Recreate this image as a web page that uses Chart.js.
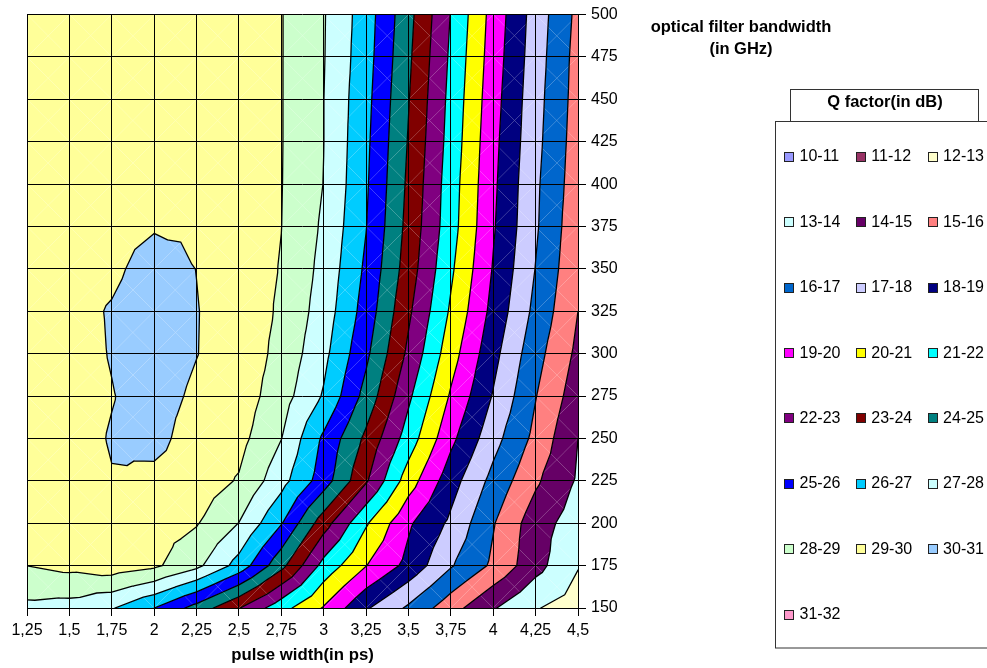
<!DOCTYPE html>
<html>
<head>
<meta charset="utf-8">
<script src="https://cdn.jsdelivr.net/npm/chart.js@4.4.1/dist/chart.umd.min.js"></script>
<style>
  html, body { margin: 0; padding: 0; background: #fff; }
  canvas { display: block; }
</style>
</head>
<body>
<canvas id="chart" width="987" height="668"></canvas>
<script>
// Pulse width (ps) along x, optical filter bandwidth (GHz) along y
const pulseWidths = [1.25, 1.5, 1.75, 2, 2.25, 2.5, 2.75, 3, 3.25, 3.5, 3.75, 4, 4.25, 4.5];
const bandwidths = [500, 475, 450, 425, 400, 375, 350, 325, 300, 275, 250, 225, 200, 175, 150];

// Q factor (dB) at each pulse width, one row per bandwidth
const q500 = [29.45, 29.5, 29.55, 29.6, 29.55, 29.45, 29.04, 28.07, 26.49, 24.31, 21.96, 19.62, 17.56, 15.74];
const q475 = [29.5, 29.55, 29.6, 29.65, 29.6, 29.45, 29.04, 28.05, 26.41, 24.18, 21.83, 19.51, 17.47, 15.63];
const q450 = [29.55, 29.6, 29.65, 29.7, 29.65, 29.5, 29.04, 28.01, 26.3, 24.05, 21.71, 19.39, 17.37, 15.58];
const q425 = [29.6, 29.65, 29.7, 29.75, 29.7, 29.5, 29.04, 28.01, 26.21, 23.93, 21.61, 19.28, 17.29, 15.51];
const q400 = [29.6, 29.7, 29.75, 29.8, 29.75, 29.5, 29.03, 27.98, 26.13, 23.81, 21.48, 19.19, 17.18, 15.43];
const q375 = [29.6, 29.7, 29.78, 29.94, 29.9, 29.55, 29.01, 27.85, 26.03, 23.69, 21.41, 19.1, 17.13, 15.3];
const q350 = [29.6, 29.7, 29.85, 30.31, 29.99, 29.55, 28.95, 27.71, 25.82, 23.51, 21.17, 18.93, 16.97, 15.18];
const q325 = [29.65, 29.75, 30.06, 30.42, 30.03, 29.6, 28.86, 27.54, 25.58, 23.18, 20.86, 18.69, 16.73, 15.0];
const q300 = [29.65, 29.7, 30.04, 30.4, 30.02, 29.6, 28.72, 27.27, 25.21, 22.79, 20.43, 18.31, 16.36, 14.77];
const q275 = [29.6, 29.7, 29.97, 30.3, 29.87, 29.55, 28.45, 26.9, 24.65, 22.19, 19.88, 17.93, 16.04, 14.45];
const q250 = [29.6, 29.7, 30.05, 30.27, 29.6, 29.32, 28.02, 25.82, 23.78, 21.54, 19.25, 17.36, 15.73, 14.0];
const q225 = [29.55, 29.65, 29.965, 29.77, 29.55, 28.92, 27.36, 25.48, 23.12, 20.49, 18.42, 16.69, 15.16, 13.88];
const q200 = [29.4, 29.45, 29.45, 29.4, 29.07, 27.98, 26.06, 23.44, 21.11, 19.15, 17.8, 16.07, 14.45, 13.5];
const q175 = [29.01, 29.27, 29.55, 29.18, 28.25, 26.62, 24.3, 21.66, 20.03, 18.7, 17.09, 15.81, 14.35, 13.05];
const q150 = [27.76, 27.62, 27.08, 26.0, 24.62, 23.05, 21.37, 19.92, 18.12, 16.84, 15.4, 14.09, 13.06, 12.57];
const qRows = [q500, q475, q450, q425, q400, q375, q350, q325, q300, q275, q250, q225, q200, q175, q150];

// Contour bands (1 dB each) and their fills
const bandLabels = ['10-11', '11-12', '12-13', '13-14', '14-15', '15-16', '16-17', '17-18',
  '18-19', '19-20', '20-21', '21-22', '22-23', '23-24', '24-25', '25-26', '26-27', '27-28',
  '28-29', '29-30', '30-31', '31-32'];
const bandColors = ['#9999FF', '#993366', '#FFFFCC', '#CCFFFF', '#660066', '#FF8080', '#0066CC', '#CCCCFF',
  '#000080', '#FF00FF', '#FFFF00', '#00FFFF', '#800080', '#800000', '#008080', '#0000FF', '#00CCFF', '#CCFFFF',
  '#CCFFCC', '#FFFF99', '#99CCFF', '#FF99CC'];

const FONT = '"Liberation Sans", Arial, Helvetica, sans-serif';

// grid points handed to Chart.js as one scatter dataset
const gridPoints = [];
bandwidths.forEach((bw, j) => {
  pulseWidths.forEach((pw, i) => gridPoints.push({ x: pw, y: bw, q: qRows[j][i] }));
});

function clipPolygon(poly, level, keepAbove) {
  const out = [];
  for (let k = 0; k < poly.length; k++) {
    const a = poly[k], b = poly[(k + 1) % poly.length];
    const ina = keepAbove ? a.v >= level : a.v <= level;
    const inb = keepAbove ? b.v >= level : b.v <= level;
    if (ina) out.push(a);
    if (ina !== inb) {
      const t = (level - a.v) / (b.v - a.v);
      out.push({ x: a.x + t * (b.x - a.x), y: a.y + t * (b.y - a.y), v: level });
    }
  }
  return out;
}

// Filled contour: every grid cell is split into four triangles around its centre
const contourBands = {
  id: 'contourBands',
  beforeDraw(chart) {
    const { ctx, chartArea: ca } = chart;
    const xs = chart.scales.x, ys = chart.scales.y;
    const pts = chart.data.datasets[0].data;
    const nx = pulseWidths.length, ny = bandwidths.length;
    const node = (i, j) => {
      const p = pts[j * nx + i];
      return { x: xs.getPixelForValue(p.x), y: ys.getPixelForValue(p.y), v: p.q };
    };
    const tris = [];
    for (let j = 0; j < ny - 1; j++) {
      for (let i = 0; i < nx - 1; i++) {
        const a = node(i, j), b = node(i + 1, j), c = node(i + 1, j + 1), d = node(i, j + 1);
        const m = { x: (a.x + b.x + c.x + d.x) / 4, y: (a.y + b.y + c.y + d.y) / 4, v: (a.v + b.v + c.v + d.v) / 4 };
        tris.push([a, b, m], [b, c, m], [c, d, m], [d, a, m]);
      }
    }
    ctx.save();
    ctx.fillStyle = '#fff';
    ctx.fillRect(0, 0, chart.width, chart.height);
    ctx.beginPath();
    ctx.rect(ca.left, ca.top, ca.right - ca.left, ca.bottom - ca.top);
    ctx.clip();

    const bandLow = bandLabels.map(l => parseFloat(l));
    for (const t of tris) {
      const vmin = Math.min(t[0].v, t[1].v, t[2].v);
      const vmax = Math.max(t[0].v, t[1].v, t[2].v);
      for (let k = 0; k < bandLow.length; k++) {
        const lo = bandLow[k], hi = lo + 1;
        if (vmax < lo || vmin >= hi) continue;
        const poly = clipPolygon(clipPolygon(t, lo, true), hi, false);
        if (poly.length < 3) continue;
        ctx.beginPath();
        poly.forEach((p, n) => n ? ctx.lineTo(p.x, p.y) : ctx.moveTo(p.x, p.y));
        ctx.closePath();
        ctx.fillStyle = bandColors[k];
        ctx.fill();
      }
    }

    // contour lines between the bands
    ctx.beginPath();
    for (const t of tris) {
      const vmin = Math.min(t[0].v, t[1].v, t[2].v);
      const vmax = Math.max(t[0].v, t[1].v, t[2].v);
      for (let L = Math.ceil(vmin); L <= Math.floor(vmax); L++) {
        const cut = [];
        for (let k = 0; k < 3; k++) {
          const a = t[k], b = t[(k + 1) % 3];
          if ((a.v > L) !== (b.v > L)) {
            const s = (L - a.v) / (b.v - a.v);
            cut.push([a.x + s * (b.x - a.x), a.y + s * (b.y - a.y)]);
          }
        }
        if (cut.length === 2) {
          ctx.moveTo(cut[0][0], cut[0][1]);
          ctx.lineTo(cut[1][0], cut[1][1]);
        }
      }
    }
    ctx.strokeStyle = '#000';
    ctx.lineWidth = 1.3;
    ctx.lineCap = 'round';
    ctx.stroke();
    ctx.restore();
  },
  afterDraw(chart) {
    const { ctx, chartArea: ca } = chart;
    ctx.save();
    ctx.fillStyle = '#000';
    ctx.textBaseline = 'middle';

    // axis titles
    ctx.textAlign = 'center';
    ctx.font = 'bold 16.8px ' + FONT;
    ctx.fillText('pulse width(in ps)', (ca.left + ca.right) / 2, 655);
    ctx.font = 'bold 16.5px ' + FONT;
    ctx.fillText('optical filter bandwidth', 741, 27);
    ctx.fillText('(in GHz)', 741, 49.5);

    // legend frame and title
    ctx.strokeStyle = '#333';
    ctx.lineWidth = 1;
    ctx.strokeRect(775.5, 121.5, 230, 526.5);
    ctx.fillStyle = '#fff';
    ctx.fillRect(791, 90, 188, 31);
    ctx.strokeRect(790.5, 89.5, 188, 32);
    ctx.fillStyle = '#000';
    ctx.fillText('Q factor(in dB)', 885, 102.5);

    // legend entries, three per row
    ctx.font = '16px ' + FONT;
    ctx.textAlign = 'left';
    bandLabels.forEach((label, k) => {
      const col = k % 3, row = Math.floor(k / 3);
      const cy = 157 + 65.37 * row;
      const mx = Math.round(784 + 71.8 * col);
      const my = Math.round(cy - 5);
      ctx.fillStyle = bandColors[k];
      ctx.fillRect(mx, my, 10, 10);
      ctx.strokeStyle = '#222';
      ctx.strokeRect(mx + 0.5, my + 0.5, 9, 9);
      ctx.fillStyle = '#000';
      ctx.fillText(label, 799.5 + 71.8 * col, cy);
    });
    ctx.restore();
  }
};

const fmtComma = v => String(v).replace('.', ',');

new Chart(document.getElementById('chart'), {
  type: 'scatter',
  data: {
    datasets: [{
      label: 'Q factor(in dB)',
      data: gridPoints,
      pointRadius: 0,
      pointHoverRadius: 0,
      showLine: false
    }]
  },
  plugins: [contourBands],
  options: {
    responsive: false,
    animation: false,
    devicePixelRatio: 1,
    events: [],
    layout: { padding: { left: 27, top: 14, right: 0, bottom: 0 } },
    plugins: { legend: { display: false }, tooltip: { enabled: false } },
    scales: {
      x: {
        type: 'linear',
        position: 'bottom',
        min: pulseWidths[0],
        max: pulseWidths[pulseWidths.length - 1],
        afterFit: s => { s.height = 60; },
        afterBuildTicks: s => { s.ticks = pulseWidths.map(v => ({ value: v })); },
        grid: { color: '#000', lineWidth: 1, tickLength: 8, drawTicks: true },
        border: { color: '#000', width: 1 },
        ticks: {
          padding: 5,
          color: '#000',
          font: { family: FONT, size: 16 },
          maxRotation: 0,
          autoSkip: false,
          callback: v => fmtComma(v)
        }
      },
      y: {
        type: 'linear',
        position: 'right',
        min: 150,
        max: 500,
        afterFit: s => { s.width = 409; },
        afterBuildTicks: s => { s.ticks = bandwidths.slice().reverse().map(v => ({ value: v })); },
        grid: { color: '#000', lineWidth: 1, tickLength: 8, drawTicks: true },
        border: { color: '#000', width: 1 },
        ticks: {
          padding: 5,
          color: '#000',
          font: { family: FONT, size: 16 },
          autoSkip: false,
          callback: v => String(v)
        }
      }
    }
  }
});
</script>
</body>
</html>
